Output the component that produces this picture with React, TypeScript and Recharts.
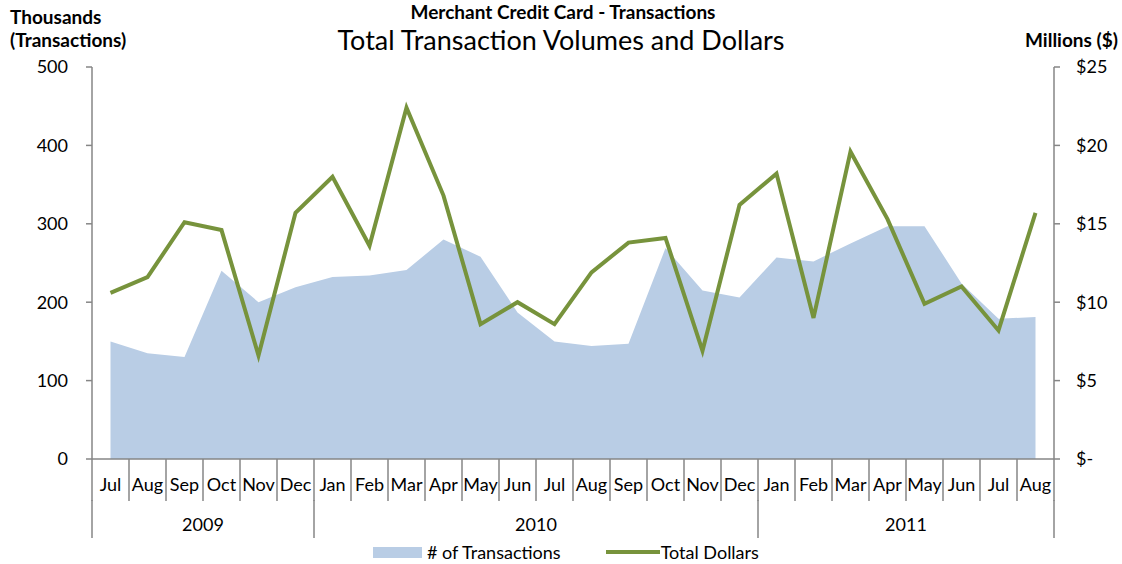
import React from "react";
import { ComposedChart, Area, Line, XAxis, YAxis, Legend } from "recharts";

const months = [
  "Jul", "Aug", "Sep", "Oct", "Nov", "Dec",
  "Jan", "Feb", "Mar", "Apr", "May", "Jun", "Jul", "Aug", "Sep", "Oct", "Nov", "Dec",
  "Jan", "Feb", "Mar", "Apr", "May", "Jun", "Jul", "Aug",
];
const years = ["2009", "2010", "2011"];
const monthsPerYear = [6, 12, 8];

// thousands of transactions
const transactions = [
  150, 135, 130, 240, 200, 219,
  232, 234, 241, 280, 258, 187, 150, 144, 147, 269, 215, 206,
  257, 252, 275, 297, 297, 224, 179, 181,
];
// millions of dollars
const dollars = [
  10.6, 11.6, 15.1, 14.6, 6.6, 15.7,
  18.0, 13.6, 22.4, 16.8, 8.6, 10.0, 8.6, 11.9, 13.8, 14.1, 6.9, 16.2,
  18.2, 9.0, 19.6, 15.3, 9.9, 11.0, 8.2, 15.7,
];

const leftTicks = [0, 100, 200, 300, 400, 500];
const rightTicks = [0, 5, 10, 15, 20, 25];

const data = months.map((m, i) => ({
  month: m,
  transactions: transactions[i],
  dollars: dollars[i],
}));

const AXIS = "#868686";
const AREA = "#B9CDE5";
const LINE = "#77933C";
const FONT = "Lato, 'Open Sans', sans-serif";
// half of one month's slot, so points sit in the middle of each slot
const HALF_SLOT = 18.5;

const halfBand = (props: any) => {
  if (props.width) return props.width / months.length / 2;
  return HALF_SLOT;
};

const MonthTick = (props: any) => {
  const { x, y, payload, index } = props;
  const half = halfBand(props);
  return (
    <g>
      <line x1={x - half} x2={x - half} y1={y} y2={y + 42} stroke={AXIS} strokeWidth={1.5} />
      {index === months.length - 1 && (
        <line x1={x + half} x2={x + half} y1={y} y2={y + 42} stroke={AXIS} strokeWidth={1.5} />
      )}
      <text x={x} y={y + 32} textAnchor="middle" fontSize={18} fill="#000" fontFamily={FONT}>
        {payload.value}
      </text>
    </g>
  );
};

const YearTick = (props: any) => {
  const { x, y, index } = props;
  const half = halfBand(props);
  const parts: React.ReactNode[] = [];
  let start = 0;
  years.forEach((yr, g) => {
    if (index === start) {
      const cx = x + (monthsPerYear[g] - 1) * half;
      parts.push(
        <line key={"l" + g} x1={x - half} x2={x - half} y1={y - 5} y2={y + 33} stroke={AXIS} strokeWidth={1.5} />
      );
      parts.push(
        <text key={"t" + g} x={cx} y={y + 26} textAnchor="middle" fontSize={18} fill="#000" fontFamily={FONT}>
          {yr}
        </text>
      );
    }
    start += monthsPerYear[g];
  });
  if (index === months.length - 1) {
    parts.push(
      <line key="end" x1={x + half} x2={x + half} y1={y - 5} y2={y + 33} stroke={AXIS} strokeWidth={1.5} />
    );
  }
  return <g>{parts}</g>;
};

const LegendContent = () => (
  <div
    style={{
      display: "flex",
      alignItems: "center",
      height: 24,
      paddingLeft: 373,
      fontFamily: FONT,
      fontSize: 18,
      lineHeight: "20px",
      color: "#000",
      whiteSpace: "nowrap",
    }}
  >
    <span style={{ display: "inline-block", width: 49, height: 11, background: AREA }} />
    <span style={{ marginLeft: 5 }}># of Transactions</span>
    <span style={{ display: "inline-block", width: 54, height: 4, background: LINE, marginLeft: 45 }} />
    <span style={{ marginLeft: 1 }}>Total Dollars</span>
  </div>
);

export default function App() {
  return (
    <div style={{ position: "absolute", left: 0, top: 0, width: 1122, height: 564, background: "#fff" }}>
      <ComposedChart
        width={1122}
        height={564}
        data={data}
        margin={{ top: 67, right: 0, bottom: 0, left: 0 }}
      >
        <XAxis
          xAxisId="month"
          dataKey="month"
          padding={{ left: HALF_SLOT, right: HALF_SLOT }}
          height={46}
          interval={0}
          tickSize={0}
          tickMargin={0}
          tickLine={false}
          axisLine={{ stroke: AXIS, strokeWidth: 1.5 }}
          tick={<MonthTick />}
        />
        <XAxis
          xAxisId="year"
          dataKey="month"
          padding={{ left: HALF_SLOT, right: HALF_SLOT }}
          height={35}
          interval={0}
          tickSize={0}
          tickMargin={0}
          tickLine={false}
          axisLine={false}
          tick={<YearTick />}
        />
        <YAxis
          yAxisId="left"
          width={92}
          domain={[0, 500]}
          ticks={leftTicks}
          tickSize={6}
          tickMargin={18}
          axisLine={{ stroke: AXIS, strokeWidth: 1.5 }}
          tickLine={{ stroke: AXIS, strokeWidth: 1.5 }}
          tick={{ fill: "#000", fontSize: 18, fontFamily: FONT }}
        />
        <YAxis
          yAxisId="right"
          orientation="right"
          width={68}
          domain={[0, 25]}
          ticks={rightTicks}
          tickSize={6}
          tickMargin={16}
          axisLine={{ stroke: AXIS, strokeWidth: 1.5 }}
          tickLine={{ stroke: AXIS, strokeWidth: 1.5 }}
          tick={{ fill: "#000", fontSize: 18, fontFamily: FONT }}
          tickFormatter={(v: number) => (v === 0 ? "$-" : `$${v}`)}
        />
        <Legend verticalAlign="bottom" wrapperStyle={{ left: 0, width: 1122 }} content={<LegendContent />} />
        <Area
          xAxisId="month"
          yAxisId="left"
          type="linear"
          dataKey="transactions"
          name="# of Transactions"
          fill={AREA}
          fillOpacity={1}
          stroke="none"
          isAnimationActive={false}
        />
        <Line
          xAxisId="month"
          yAxisId="right"
          type="linear"
          dataKey="dollars"
          name="Total Dollars"
          stroke={LINE}
          strokeWidth={4}
          dot={false}
          activeDot={false}
          isAnimationActive={false}
        />
      </ComposedChart>
      <svg
        width={1122}
        height={564}
        style={{ position: "absolute", left: 0, top: 0, pointerEvents: "none" }}
      >
        <text x={563} y={19} textAnchor="middle" fontSize={19} fontWeight="bold" fontFamily={FONT} fill="#000">
          Merchant Credit Card - Transactions
        </text>
        <text x={561} y={50} textAnchor="middle" fontSize={27} fontFamily={FONT} fill="#000">
          Total Transaction Volumes and Dollars
        </text>
        <text x={10} y={24} fontSize={19} fontWeight="bold" fontFamily={FONT} fill="#000">
          Thousands
        </text>
        <text x={10} y={47} fontSize={19} fontWeight="bold" fontFamily={FONT} fill="#000">
          (Transactions)
        </text>
        <text x={1118} y={47} textAnchor="end" fontSize={19} fontWeight="bold" fontFamily={FONT} fill="#000">
          Millions ($)
        </text>
      </svg>
    </div>
  );
}
